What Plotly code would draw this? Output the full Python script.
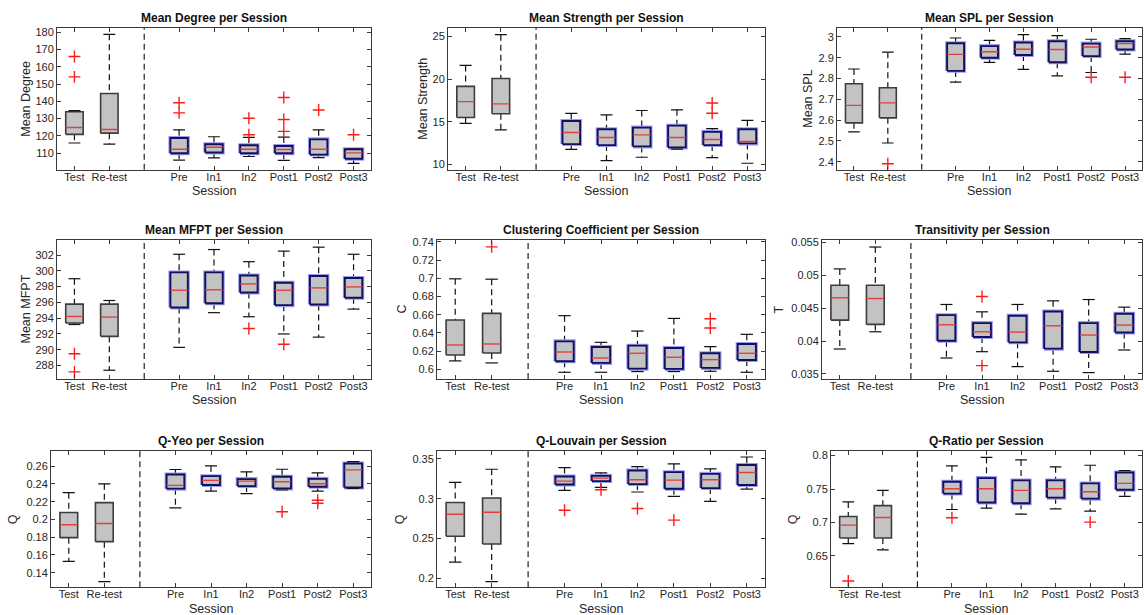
import plotly.graph_objects as go
from plotly.subplots import make_subplots

CATEGORIES = ["Test", "Re-test", "Pre", "In1", "In2", "Post1", "Post2", "Post3"]
POSITIONS = [1, 2, 4, 5, 6, 7, 8, 9]
N_BASELINE = 2  # first two boxes drawn in grey outline

# ---------- Mean Degree ----------
degree_lower = [115.9, 115.3, 106.0, 107.3, 108.1, 105.8, 107.5, 104.1]
degree_q1 = [120.9, 121.6, 110.0, 110.4, 110.0, 110.0, 109.2, 106.8]
degree_median = [124.9, 123.7, 112.3, 113.4, 112.3, 112.1, 112.3, 110.2]
degree_q3 = [134.0, 144.5, 118.8, 115.2, 114.6, 114.2, 118.0, 112.3]
degree_upper = [134.6, 178.7, 123.5, 119.5, 119.2, 119.3, 123.5, 112.3]
degree_outliers = [[165.9, 154.1], [], [139.2, 133.3], [], [130.2, 120.7], [142.2, 129.5, 122.6], [135.0], [120.7]]
degree_ticks = [110, 120, 130, 140, 150, 160, 170, 180]
degree_ticktext = ["110", "120", "130", "140", "150", "160", "170", "180"]
degree_range = [100.5, 182.5]

# ---------- Mean Strength ----------
strength_lower = [14.82, 14.05, 11.77, 10.46, 10.85, 11.80, 10.80, 10.15]
strength_q1 = [15.50, 15.94, 12.39, 12.27, 12.12, 12.00, 12.27, 12.47]
strength_median = [17.36, 17.10, 13.74, 13.16, 13.47, 13.16, 12.93, 12.70]
strength_q3 = [19.14, 20.06, 15.09, 14.12, 14.32, 14.55, 13.82, 14.12]
strength_upper = [21.60, 25.20, 15.98, 15.82, 16.32, 16.40, 14.20, 15.17]
strength_outliers = [[], [], [], [], [], [], [17.2, 16.0], []]
strength_ticks = [10, 15, 20, 25]
strength_ticktext = ["10", "15", "20", "25"]
strength_range = [9.4, 26.0]

# ---------- Mean SPL ----------
spl_lower = [2.544, 2.490, 2.783, 2.878, 2.844, 2.813, 2.829, 2.917]
spl_q1 = [2.587, 2.611, 2.837, 2.900, 2.913, 2.878, 2.908, 2.940]
spl_median = [2.671, 2.683, 2.916, 2.929, 2.941, 2.940, 2.952, 2.968]
spl_q3 = [2.775, 2.756, 2.970, 2.956, 2.973, 2.979, 2.968, 2.979]
spl_upper = [2.846, 2.927, 2.995, 2.984, 3.011, 3.006, 2.989, 2.992]
spl_outliers = [[], [2.39], [], [], [], [], [2.806], [2.806]]
spl_ticks = [2.4, 2.5, 2.6, 2.7, 2.8, 2.9, 3.0]
spl_ticktext = ["2.4", "2.5", "2.6", "2.7", "2.8", "2.9", "3"]
spl_range = [2.362, 3.044]

# ---------- Mean MFPT ----------
mfpt_lower = [293.2, 287.4, 290.3, 294.7, 294.18, 292.0, 291.6, 295.15]
mfpt_q1 = [293.38, 291.7, 295.36, 295.9, 297.25, 295.65, 295.74, 296.58]
mfpt_median = [294.22, 294.14, 297.54, 297.6, 298.34, 297.54, 297.84, 297.96]
mfpt_q3 = [295.78, 295.78, 299.8, 299.8, 299.4, 298.5, 299.35, 299.1]
mfpt_upper = [299.0, 296.24, 302.1, 302.7, 301.16, 302.5, 303.0, 302.1]
mfpt_outliers = [[289.5, 287.2], [], [], [], [292.7], [290.7], [], []]
mfpt_ticks = [288, 290, 292, 294, 296, 298, 300, 302]
mfpt_ticktext = ["288", "290", "292", "294", "296", "298", "300", "302"]
mfpt_range = [286.3, 303.9]

# ---------- Clustering Coefficient ----------
cc_lower = [0.6092, 0.6070, 0.5967, 0.5967, 0.5975, 0.5975, 0.5978, 0.5967]
cc_q1 = [0.6157, 0.6179, 0.6088, 0.6070, 0.6007, 0.6004, 0.6015, 0.6102]
cc_median = [0.6267, 0.6278, 0.6190, 0.6124, 0.6176, 0.6132, 0.6106, 0.6176]
cc_q3 = [0.6541, 0.6614, 0.6307, 0.6245, 0.6260, 0.6234, 0.6176, 0.6278]
cc_upper = [0.6994, 0.6990, 0.6589, 0.6296, 0.6420, 0.6559, 0.6249, 0.6384]
cc_outliers = [[], [0.7345], [], [], [], [], [0.6556, 0.6453], []]
cc_ticks = [0.6, 0.62, 0.64, 0.66, 0.68, 0.7, 0.72, 0.74]
cc_ticktext = ["0.6", "0.62", "0.64", "0.66", "0.68", "0.7", "0.72", "0.74"]
cc_range = [0.5894, 0.742]

# ---------- Transitivity ----------
tr_lower = [0.03879, 0.04141, 0.03742, 0.03838, 0.03611, 0.03540, 0.03520, 0.03864]
tr_q1 = [0.04318, 0.04253, 0.04005, 0.04061, 0.03980, 0.03884, 0.03833, 0.04131]
tr_median = [0.04657, 0.04646, 0.04247, 0.04141, 0.04136, 0.04232, 0.04091, 0.04242]
tr_q3 = [0.04848, 0.04848, 0.04394, 0.04273, 0.04384, 0.04449, 0.04273, 0.04414]
tr_upper = [0.05096, 0.05429, 0.04556, 0.04444, 0.04556, 0.04611, 0.04631, 0.04515]
tr_outliers = [[], [], [], [0.04677, 0.03626], [], [], [], []]
tr_ticks = [0.035, 0.04, 0.045, 0.05, 0.055]
tr_ticktext = ["0.035", "0.04", "0.045", "0.05", "0.055"]
tr_range = [0.03424, 0.05535]

# ---------- Q-Yeo ----------
qyeo_lower = [0.1527, 0.1300, 0.2130, 0.2320, 0.2291, 0.2332, 0.2320, 0.2350]
qyeo_q1 = [0.1795, 0.1750, 0.2347, 0.2388, 0.2376, 0.2350, 0.2369, 0.2361]
qyeo_median = [0.1940, 0.1955, 0.2384, 0.2440, 0.2432, 0.2425, 0.2402, 0.2559]
qyeo_q3 = [0.2078, 0.2190, 0.2507, 0.2488, 0.2455, 0.2481, 0.2458, 0.2630]
qyeo_upper = [0.2302, 0.2402, 0.2563, 0.2604, 0.2537, 0.2566, 0.2525, 0.2652]
qyeo_outliers = [[], [], [], [], [], [0.2086], [0.2216, 0.2182], []]
qyeo_ticks = [0.14, 0.16, 0.18, 0.2, 0.22, 0.24, 0.26]
qyeo_ticktext = ["0.14", "0.16", "0.18", "0.2", "0.22", "0.24", "0.26"]
qyeo_range = [0.1236, 0.2768]

# ---------- Q-Louvain ----------
qlou_lower = [0.2204, 0.1959, 0.3105, 0.3143, 0.3085, 0.3031, 0.2968, 0.3122]
qlou_q1 = [0.2528, 0.2432, 0.3180, 0.3222, 0.3184, 0.3126, 0.3134, 0.3172]
qlou_median = [0.2806, 0.2831, 0.3222, 0.3259, 0.3238, 0.3234, 0.3238, 0.3330]
qlou_q3 = [0.2952, 0.3010, 0.3280, 0.3288, 0.3355, 0.3334, 0.3313, 0.3425]
qlou_upper = [0.3205, 0.3371, 0.3392, 0.3326, 0.3404, 0.3438, 0.3375, 0.3525]
qlou_outliers = [[], [], [0.2856], [0.3114], [0.2877], [0.2731], [], []]
qlou_ticks = [0.2, 0.25, 0.3, 0.35]
qlou_ticktext = ["0.2", "0.25", "0.3", "0.35"]
qlou_range = [0.1888, 0.3596]

# ---------- Q-Ratio ----------
qrat_lower = [0.6683, 0.6589, 0.7193, 0.7213, 0.7124, 0.7203, 0.7168, 0.7391]
qrat_q1 = [0.6767, 0.6767, 0.7431, 0.7297, 0.7287, 0.7371, 0.7356, 0.7490]
qrat_median = [0.6960, 0.7074, 0.7505, 0.7505, 0.7480, 0.7505, 0.7460, 0.7584]
qrat_q3 = [0.7089, 0.7252, 0.7609, 0.7663, 0.7629, 0.7629, 0.7584, 0.7748]
qrat_upper = [0.7307, 0.7480, 0.7847, 0.7975, 0.7936, 0.7832, 0.7856, 0.7777]
qrat_outliers = [[0.6124], [], [0.7069], [], [], [], [0.7005], []]
qrat_ticks = [0.65, 0.7, 0.75, 0.8]
qrat_ticktext = ["0.65", "0.7", "0.75", "0.8"]
qrat_range = [0.603, 0.8064]

PANELS = [
    ("Mean Degree per Session", "Mean Degree", degree_lower, degree_q1, degree_median, degree_q3, degree_upper, degree_outliers, degree_ticks, degree_ticktext, degree_range),
    ("Mean Strength per Session", "Mean Strength", strength_lower, strength_q1, strength_median, strength_q3, strength_upper, strength_outliers, strength_ticks, strength_ticktext, strength_range),
    ("Mean SPL per Session", "Mean SPL", spl_lower, spl_q1, spl_median, spl_q3, spl_upper, spl_outliers, spl_ticks, spl_ticktext, spl_range),
    ("Mean MFPT per Session", "Mean MFPT", mfpt_lower, mfpt_q1, mfpt_median, mfpt_q3, mfpt_upper, mfpt_outliers, mfpt_ticks, mfpt_ticktext, mfpt_range),
    ("Clustering Coefficient per Session", "C", cc_lower, cc_q1, cc_median, cc_q3, cc_upper, cc_outliers, cc_ticks, cc_ticktext, cc_range),
    ("Transitivity per Session", "T", tr_lower, tr_q1, tr_median, tr_q3, tr_upper, tr_outliers, tr_ticks, tr_ticktext, tr_range),
    ("Q-Yeo per Session", "Q", qyeo_lower, qyeo_q1, qyeo_median, qyeo_q3, qyeo_upper, qyeo_outliers, qyeo_ticks, qyeo_ticktext, qyeo_range),
    ("Q-Louvain per Session", "Q", qlou_lower, qlou_q1, qlou_median, qlou_q3, qlou_upper, qlou_outliers, qlou_ticks, qlou_ticktext, qlou_range),
    ("Q-Ratio per Session", "Q", qrat_lower, qrat_q1, qrat_median, qrat_q3, qrat_upper, qrat_outliers, qrat_ticks, qrat_ticktext, qrat_range),
]

# ---------- layout geometry (pixels) ----------
W, H = 1144, 615
AX_X = [(57, 371), (448, 765), (837, 1142),
        (57, 371), (437, 765), (822, 1142),
        (51, 371), (437, 765), (831, 1142)]
AX_Y = [(24, 167), (238, 378), (451, 588)]
YLABEL_X = [26, 423, 808, 26, 402, 779, 13, 400, 793]

FONT = "Liberation Sans, Arial, Helvetica, sans-serif"
BOX_HALF = 0.25
CAP_HALF = 0.17
FILL = "#c3c3c3"
AXIS_COLOR = "#3a3a3a"

fig = make_subplots(rows=3, cols=3)

annotations = []
shapes = []
for k, (title, ylab, lo, q1, med, q3, up, outl, ticks, ticktext, yr) in enumerate(PANELS):
    r, c = divmod(k, 3)
    xa = "x" if k == 0 else f"x{k+1}"
    ya = "y" if k == 0 else f"y{k+1}"

    wx, wy, cx, cy, mx, my = [], [], [], [], [], []
    bx_base, by_base, bx_ses, by_ses = [], [], [], []
    ox, oy = [], []
    for i, p in enumerate(POSITIONS):
        wx += [p, p, None, p, p, None]
        wy += [up[i], q3[i], None, q1[i], lo[i], None]
        cx += [p - CAP_HALF, p + CAP_HALF, None, p - CAP_HALF, p + CAP_HALF, None]
        cy += [up[i], up[i], None, lo[i], lo[i], None]
        bxs = [p - BOX_HALF, p + BOX_HALF, p + BOX_HALF, p - BOX_HALF, p - BOX_HALF, None]
        bys = [q1[i], q1[i], q3[i], q3[i], q1[i], None]
        if i < N_BASELINE:
            bx_base += bxs
            by_base += bys
        else:
            bx_ses += bxs
            by_ses += bys
        mx += [p - BOX_HALF, p + BOX_HALF, None]
        my += [med[i], med[i], None]
        for v in outl[i]:
            ox.append(p)
            oy.append(v)

    common = dict(xaxis=xa, yaxis=ya, showlegend=False, hoverinfo="skip")
    fig.add_trace(go.Scatter(x=wx, y=wy, mode="lines",
                             line=dict(color="#111111", width=1.2, dash="6px,4px"), **common))
    fig.add_trace(go.Scatter(x=bx_base, y=by_base, mode="lines", fill="toself", fillcolor=FILL,
                             line=dict(color="#3c3c3c", width=1.6), **common))
    fig.add_trace(go.Scatter(x=bx_ses, y=by_ses, mode="lines",
                             line=dict(color="#9a9af2", width=4.0), **common))
    fig.add_trace(go.Scatter(x=bx_ses, y=by_ses, mode="lines", fill="toself", fillcolor=FILL,
                             line=dict(color="#10105e", width=1.9), **common))
    fig.add_trace(go.Scatter(x=cx, y=cy, mode="lines",
                             line=dict(color="#111111", width=1.2), **common))
    fig.add_trace(go.Scatter(x=mx, y=my, mode="lines",
                             line=dict(color="#e2403f", width=1.4), **common))
    fig.add_trace(go.Scatter(x=ox, y=oy, mode="markers",
                             marker=dict(symbol="cross-thin", size=8.5,
                                         line=dict(color="#ff1a1a", width=1.4)), **common))

    x0, x1 = AX_X[k]
    y0, y1 = AX_Y[r]
    axis_common = dict(showline=True, linecolor=AXIS_COLOR, linewidth=1, mirror="ticks",
                       ticks="inside", ticklen=4, tickcolor=AXIS_COLOR, showgrid=False,
                       zeroline=False, tickfont=dict(family=FONT, size=11, color="#262626"))
    fig.layout[("xaxis" if k == 0 else f"xaxis{k+1}")].update(
        domain=[x0 / W, x1 / W], range=[0.5, 9.5], tickmode="array",
        tickvals=POSITIONS, ticktext=CATEGORIES, ticklabelstandoff=-3, **axis_common)
    fig.layout[("yaxis" if k == 0 else f"yaxis{k+1}")].update(
        domain=[1 - y1 / H, 1 - y0 / H], range=yr, tickmode="array",
        tickvals=ticks, ticktext=ticktext, **axis_common)

    shapes.append(dict(type="line", xref=xa, yref=f"{ya} domain", x0=3, x1=3, y0=0, y1=1,
                       line=dict(color="#222222", width=1.2, dash="6px,4px"), layer="above"))

    annotations.append(dict(text=f"<b>{title}</b>", x=(x0 + x1) / 2 / W, y=1 - (y0 - 10) / H,
                            xref="paper", yref="paper", xanchor="center", yanchor="middle",
                            showarrow=False, font=dict(family=FONT, size=12, color="#111111")))
    annotations.append(dict(text="Session", x=(x0 + x1) / 2 / W, y=1 - (y1 + 21.5) / H,
                            xref="paper", yref="paper", xanchor="center", yanchor="middle",
                            showarrow=False, font=dict(family=FONT, size=12.5, color="#262626")))
    annotations.append(dict(text=ylab, x=YLABEL_X[k] / W, y=1 - (y0 + y1) / 2 / H,
                            xref="paper", yref="paper", xanchor="center", yanchor="middle",
                            textangle=-90, showarrow=False,
                            font=dict(family=FONT, size=12.5, color="#262626")))

fig.update_layout(width=W, height=H, margin=dict(l=0, r=0, t=0, b=0),
                  paper_bgcolor="white", plot_bgcolor="white",
                  annotations=annotations, shapes=shapes, showlegend=False)

fig.write_html("out.html")
